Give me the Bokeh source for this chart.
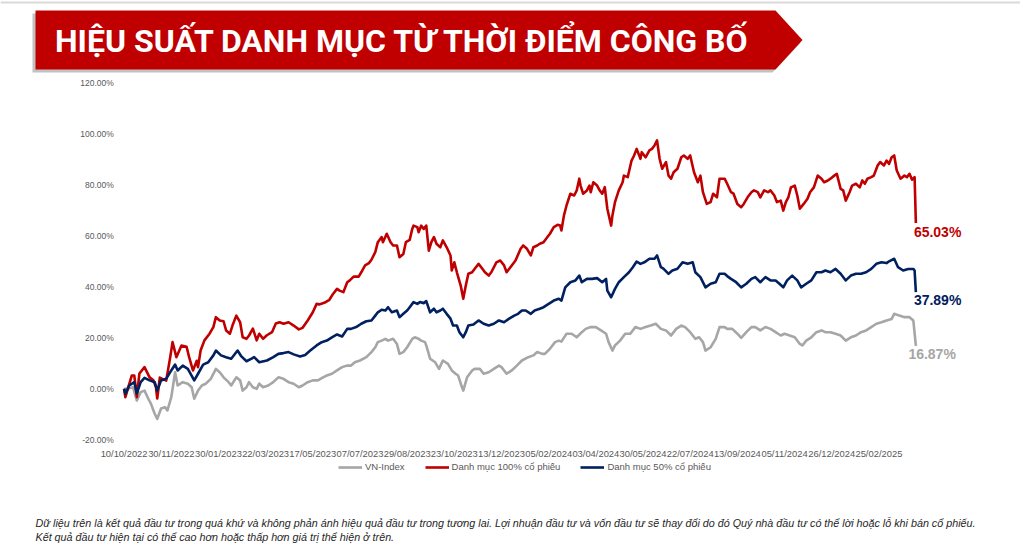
from bokeh.plotting import figure
from bokeh.models import FixedTicker, Legend, LegendItem, Range1d, PolyAnnotation, Label, BoxAnnotation
from bokeh.embed import file_html
from bokeh.resources import INLINE
from bokeh.core.properties import value

TITLE = "HIỆU SUẤT DANH MỤC TỪ THỜI ĐIỂM CÔNG BỐ"
NOTE_1 = ("Dữ liệu trên là kết quả đầu tư trong quá khứ và không phản ánh hiệu quả đầu tư trong tương lai. "
          "Lợi nhuận đầu tư và vốn đầu tư sẽ thay đổi do đó Quý nhà đầu tư có thể lời hoặc lỗ khi bán cổ phiếu.")
NOTE_2 = "Kết quả đầu tư hiện tại có thể cao hơn hoặc thấp hơn giá trị thể hiện ở trên."

SERIES_NAMES = ["VN-Index", "Danh mục 100% cổ phiếu", "Danh mục 50% cổ phiếu"]

# trading-day index of each date label on the category axis
TICK_DAYS = [0, 37, 74, 111, 148, 185, 222, 259, 296, 333, 370, 407, 444, 481, 518, 555, 592]
TICK_LABELS = ["10/10/2022", "30/11/2022", "30/01/2023", "22/03/2023", "17/05/2023", "07/07/2023",
               "29/08/2023", "23/10/2023", "13/12/2023", "05/02/2024", "03/04/2024", "30/05/2024",
               "22/07/2024", "13/09/2024", "05/11/2024", "26/12/2024", "25/02/2025"]
Y_TICKS = [-20, 0, 20, 40, 60, 80, 100, 120]

# VN-Index (% since publication)
VN_DAYS = [0, 3, 7, 10, 13, 16, 19, 21, 24, 26,
           29, 32, 34, 37, 40, 42, 46, 50, 53, 55,
           58, 61, 64, 68, 72, 75, 78, 82, 84, 88,
           91, 93, 96, 98, 101, 104, 106, 109, 113, 117,
           121, 125, 129, 133, 137, 140, 144, 148, 152, 156,
           159, 163, 167, 171, 175, 178, 181, 185, 190, 194,
           197, 199, 202, 205, 207, 211, 214, 216, 219, 222,
           226, 228, 231, 233, 236, 237, 240, 244, 247, 250,
           254, 257, 260, 262, 265, 266, 269, 273, 275, 279,
           282, 286, 290, 294, 296, 300, 304, 308, 312, 317,
           321, 324, 328, 330, 334, 338, 341, 343, 347, 351,
           355, 359, 362, 366, 370, 374, 378, 380, 383, 385,
           389, 393, 397, 401, 405, 409, 413, 417, 421, 425,
           429, 433, 437, 440, 444, 448, 451, 454, 456, 460,
           464, 467, 471, 473, 477, 481, 484, 488, 492, 495,
           499, 503, 507, 511, 515, 518, 522, 526, 530, 532,
           535, 539, 543, 547, 550, 554, 558, 562, 566, 570,
           574, 578, 582, 586, 590, 594, 598, 602, 604, 608,
           612, 616, 619, 621]
VN_VALUES = [0, 0, 0.6, -4.6, -1.3, -0.7, -3.9, -5.8, -9.8, -11.8,
             -7.7, -7.2, -8.5, -3.3, 6.5, 1.3, 2.6, 2.0, 0.6, -3.9,
             -0.7, 1.3, 2.0, 3.9, 7.8, 6.5, 4.5, 2.6, 1.3, 4.5,
             3.3, -0.7, 0.6, 2.6, 0.6, 0.0, 2.0, 0.6, 1.3, 2.6,
             4.5, 3.9, 2.6, 2.0, 0.6, 1.3, 2.6, 3.3, 3.3, 4.5,
             5.2, 5.9, 7.2, 8.5, 9.1, 9.1, 10.4, 11.1, 12.4, 14.4,
             16.3, 18.3, 18.9, 19.6, 18.9, 19.6, 17.6, 13.7, 14.4, 16.3,
             19.6, 20.2, 19.6, 18.9, 18.3, 17.0, 11.8, 10.4, 7.8, 11.1,
             9.8, 7.2, 5.9, 5.2, 0.6, -0.7, 4.5, 7.2, 7.8, 7.8,
             5.9, 6.5, 7.8, 9.1, 8.5, 5.9, 7.2, 9.1, 11.1, 12.4,
             13.1, 14.4, 13.7, 13.7, 15.7, 18.3, 18.9, 18.5, 21.6, 21.6,
             20.2, 22.2, 23.5, 24.2, 24.2, 22.9, 21.6, 18.3, 15.0, 17.0,
             18.9, 21.6, 21.6, 24.2, 23.5, 24.2, 24.8, 25.5, 23.5, 22.9,
             20.9, 23.5, 24.8, 24.2, 22.2, 19.6, 20.2, 18.3, 15.0, 16.3,
             19.6, 24.2, 24.2, 23.5, 23.5, 21.6, 20.0, 22.2, 24.2, 24.2,
             22.9, 24.2, 23.5, 22.2, 20.9, 21.6, 20.9, 20.2, 17.6, 17.0,
             18.9, 20.2, 22.2, 22.9, 22.2, 22.2, 21.6, 20.9, 18.9, 20.2,
             20.9, 22.2, 22.9, 24.2, 25.5, 26.1, 26.8, 27.4, 29.4, 28.7,
             28.1, 28.1, 26.8, 16.87]

# Danh mục 100% cổ phiếu
P100_DAYS = [0, 1, 6, 8, 10, 12, 16, 20, 23, 25,
             26, 28, 30, 33, 36, 38, 41, 45, 49, 51,
             54, 57, 58, 60, 63, 67, 70, 72, 75, 78,
             80, 83, 85, 88, 91, 93, 96, 98, 101, 104,
             106, 109, 112, 116, 119, 122, 125, 129, 133, 137,
             140, 144, 148, 151, 153, 157, 161, 164, 167, 169,
             172, 175, 177, 180, 184, 186, 189, 192, 194, 197,
             199, 202, 203, 206, 209, 211, 214, 216, 219, 221,
             224, 226, 227, 230, 231, 233, 235, 237, 239, 241,
             243, 245, 248, 250, 253, 256, 257, 259, 261, 264,
             266, 268, 270, 273, 275, 278, 281, 283, 286, 288,
             292, 295, 298, 300, 303, 307, 311, 313, 316, 319,
             321, 324, 326, 329, 332, 334, 337, 340, 342, 343,
             345, 347, 350, 353, 355, 357, 358, 360, 363, 365,
             366, 368, 371, 373, 375, 377, 379, 382, 383, 385,
             388, 391, 392, 395, 398, 400, 402, 405, 406, 409,
             412, 414, 416, 418, 420, 422, 425, 427, 429, 431,
             434, 437, 439, 442, 444, 447, 450, 452, 454, 457,
             460, 462, 465, 467, 471, 473, 476, 478, 481, 484,
             486, 489, 492, 494, 497, 499, 502, 505, 507, 510,
             512, 515, 517, 519, 521, 523, 526, 528, 530, 533,
             536, 538, 541, 544, 547, 549, 552, 554, 557, 559,
             562, 564, 566, 569, 571, 574, 577, 579, 581, 583,
             586, 588, 591, 593, 596, 598, 600, 602, 604, 606,
             609, 612, 614, 616, 618, 620, 621]
P100_VALUES = [0, -3.3, 5.2, 5.2, -3.3, 6.0, 8.5, 4.5, 3.3, 0.6,
               -3.8, 4.4, 3.9, 3.2, 11.9, 18.3, 12.4, 17.0, 16.5, 12.4,
               7.2, 11.0, 8.5, 15.0, 19.0, 21.6, 24.2, 28.1, 26.8, 26.5,
               22.9, 21.6, 24.8, 28.7, 26.1, 20.2, 19.6, 20.9, 23.6, 19.0,
               21.6, 19.6, 21.0, 22.2, 25.6, 26.1, 25.5, 26.1, 24.8, 23.3,
               23.9, 26.8, 30.0, 33.3, 33.1, 33.7, 34.9, 37.3, 39.2, 38.5,
               37.9, 41.8, 42.5, 44.0, 44.0, 45.7, 48.4, 49.3, 50.6, 53.6,
               57.5, 59.5, 57.5, 60.8, 57.5, 56.2, 56.2, 51.6, 52.9, 57.5,
               58.4, 62.7, 64.0, 63.4, 61.4, 64.0, 62.7, 64.0, 54.2, 57.5,
               59.5, 56.9, 55.5, 58.2, 55.5, 52.3, 46.4, 49.6, 45.7, 40.5,
               35.3, 40.5, 45.1, 45.7, 47.1, 49.0, 47.1, 45.7, 44.4, 45.7,
               49.6, 50.3, 48.4, 45.7, 47.7, 50.3, 54.9, 56.2, 54.9, 52.3,
               55.5, 56.2, 56.9, 57.5, 59.5, 60.8, 63.4, 64.3, 64.0, 62.1,
               68.0, 71.9, 76.5, 75.8, 77.8, 82.4, 79.7, 76.5, 77.8, 79.7,
               77.1, 81.0, 79.7, 77.8, 76.5, 79.1, 70.6, 64.0, 68.0, 73.2,
               77.8, 81.0, 83.6, 83.0, 89.5, 91.5, 94.1, 90.2, 92.8, 90.8,
               93.5, 94.1, 95.4, 97.4, 90.2, 86.3, 88.9, 83.6, 82.4, 84.9,
               86.3, 90.8, 91.5, 90.2, 91.5, 84.9, 81.0, 83.6, 77.1, 72.5,
               73.2, 76.5, 75.1, 82.4, 82.4, 80.4, 77.1, 76.5, 72.5, 71.2,
               72.5, 75.1, 77.1, 77.8, 77.1, 75.1, 77.8, 77.1, 77.8, 75.8,
               73.2, 73.8, 69.9, 73.2, 75.1, 79.0, 79.7, 75.8, 70.6, 72.5,
               74.5, 77.1, 79.0, 83.6, 82.4, 81.0, 81.7, 82.4, 83.6, 84.3,
               78.4, 77.8, 73.8, 77.1, 79.7, 80.4, 79.0, 81.7, 80.4, 82.4,
               83.0, 83.6, 87.6, 88.9, 87.6, 89.5, 88.2, 90.8, 91.5, 85.6,
               82.4, 83.6, 83.0, 84.3, 82.0, 83.0, 65.03]

# Danh mục 50% cổ phiếu
P50_DAYS = [0, 1, 4, 8, 10, 13, 16, 20, 24, 26,
            29, 33, 37, 40, 42, 46, 50, 55, 58, 62,
            66, 70, 72, 76, 80, 84, 89, 92, 96, 100,
            102, 106, 112, 117, 121, 125, 129, 133, 138, 142,
            146, 151, 155, 159, 163, 167, 171, 175, 178, 182,
            186, 190, 194, 197, 199, 202, 205, 207, 210, 214,
            216, 219, 222, 224, 227, 230, 232, 235, 237, 240,
            243, 245, 248, 250, 253, 256, 258, 261, 263, 266,
            268, 270, 274, 278, 282, 286, 290, 294, 298, 302,
            306, 309, 312, 315, 319, 322, 326, 329, 333, 337,
            341, 343, 346, 350, 354, 357, 359, 363, 367, 371,
            375, 378, 379, 382, 385, 388, 392, 396, 399, 402,
            405, 408, 412, 416, 418, 421, 423, 427, 430, 434,
            438, 442, 446, 448, 452, 456, 460, 464, 467, 471,
            473, 476, 480, 484, 488, 492, 495, 499, 503, 507,
            511, 514, 517, 520, 524, 528, 531, 535, 539, 543,
            547, 550, 554, 558, 562, 566, 570, 574, 578, 582,
            586, 590, 594, 598, 600, 604, 607, 611, 615, 619,
            620, 621]
P50_VALUES = [0, -2.0, 1.3, 2.6, -1.8, 2.6, 4.3, 3.3, 2.6, -0.7,
              3.3, 3.9, 7.2, 9.5, 7.2, 9.1, 7.8, 3.3, 5.9, 9.5,
              10.4, 13.1, 15.0, 13.1, 12.4, 11.8, 15.0, 12.7, 10.8, 11.8,
              12.4, 10.4, 11.1, 12.4, 13.7, 14.0, 14.4, 13.5, 12.7, 13.3,
              15.0, 17.0, 18.3, 18.9, 20.2, 21.3, 20.5, 23.5, 23.5, 24.2,
              25.5, 26.5, 26.8, 28.7, 30.0, 31.0, 30.7, 32.0, 30.0, 30.7,
              28.1, 29.4, 30.7, 32.0, 34.0, 33.3, 34.0, 33.6, 34.4, 30.0,
              31.4, 30.0, 30.7, 31.4, 29.4, 27.5, 24.8, 24.8, 22.2, 20.2,
              22.2, 24.8, 25.2, 26.8, 25.5, 24.8, 25.5, 26.8, 26.1, 27.5,
              28.7, 29.4, 30.7, 30.7, 29.4, 30.7, 31.4, 32.0, 33.3, 34.6,
              35.3, 34.6, 39.8, 41.8, 42.5, 44.4, 41.8, 43.1, 43.1, 43.4,
              41.8, 43.1, 38.5, 35.9, 39.2, 41.8, 43.8, 45.7, 47.7, 49.9,
              49.0, 49.6, 51.0, 51.0, 52.3, 47.7, 47.1, 45.1, 46.4, 47.1,
              49.6, 49.0, 49.6, 45.7, 43.8, 39.8, 41.2, 41.8, 45.1, 45.1,
              44.2, 43.1, 41.8, 39.8, 41.2, 43.1, 43.8, 41.8, 43.8, 42.5,
              42.5, 41.2, 39.8, 42.5, 44.4, 42.5, 39.8, 41.2, 42.5, 45.7,
              45.7, 46.4, 45.7, 47.0, 45.1, 42.5, 44.4, 45.1, 45.1, 45.7,
              47.0, 49.0, 49.6, 49.3, 50.0, 51.0, 47.7, 46.4, 47.0, 47.0,
              46.4, 37.89]

GREY = "#A6A6A6"
RED = "#C00000"
NAVY = "#002060"
AXIS_TEXT = "#595959"
W, H = 1020, 545

# ---- layout geometry (canvas pixels) ----
X0_PX, PX_PER_DAY = 123.6, 1.275          # position of day 0, width of one trading day
Y_TOP_PX, Y_BOT_PX = 82.3, 439.3           # positions of 120% and -20%
PX_PER_PCT = (Y_BOT_PX - Y_TOP_PX) / 140.0

x_range = Range1d(-X0_PX / PX_PER_DAY, (W - X0_PX) / PX_PER_DAY)
y_range = Range1d(-20 - (H - Y_BOT_PX) / PX_PER_PCT, 120 + Y_TOP_PX / PX_PER_PCT)

p = figure(width=W, height=H, x_range=x_range, y_range=y_range,
           toolbar_location=None, output_backend="svg", title=None, min_border=0)
p.grid.visible = False
p.outline_line_color = None

# ---------- top rule and banner ----------
p.add_layout(BoxAnnotation(left=0, right=W, top=1, bottom=3, left_units="canvas", right_units="canvas",
                           top_units="canvas", bottom_units="canvas", fill_color="#d9d9d9",
                           fill_alpha=1.0, line_color=None))
p.add_layout(PolyAnnotation(xs=[32, 772, 800, 772, 32], ys=[13, 13, 42.5, 72, 72],
                            xs_units="canvas", ys_units="canvas",
                            fill_color="#8f8f8f", fill_alpha=0.55, line_color=None))
p.add_layout(PolyAnnotation(xs=[35, 775, 802, 775, 35], ys=[10, 10, 39.5, 69, 69],
                            xs_units="canvas", ys_units="canvas",
                            fill_color=RED, fill_alpha=1.0, line_color=None))
p.add_layout(Label(x=402, y=40, x_units="canvas", y_units="canvas", text=TITLE,
                   text_color="white", text_font="Roboto", text_font_style="bold",
                   text_font_size="32px", text_align="center", text_baseline="middle"))

# ---------- series ----------
r_vn = p.line(VN_DAYS, VN_VALUES, line_color=GREY, line_width=2.6, line_join="round")
r_100 = p.line(P100_DAYS, P100_VALUES, line_color=RED, line_width=2.6, line_join="round")
r_50 = p.line(P50_DAYS, P50_VALUES, line_color=NAVY, line_width=2.6, line_join="round")

for days, vals, col, dx, dy in [(P100_DAYS, P100_VALUES, RED, -2, 9),
                                (P50_DAYS, P50_VALUES, NAVY, -2, 7.5),
                                (VN_DAYS, VN_VALUES, GREY, -7.5, 8)]:
    p.text(x=[days[-1]], y=[vals[-1]], text=[f"{vals[-1]:.2f}%"], text_color=col,
           text_font=value("Liberation Sans"), text_font_style="bold", text_font_size="14px",
           text_align="left", text_baseline="middle", x_offset=dx, y_offset=dy)

# ---------- axes (drawn at fixed data positions inside the canvas) ----------
p.xaxis.ticker = FixedTicker(ticks=TICK_DAYS, minor_ticks=[])
p.xaxis.major_label_overrides = {d: lab for d, lab in zip(TICK_DAYS, TICK_LABELS)}
p.yaxis.ticker = FixedTicker(ticks=Y_TICKS, minor_ticks=[])
p.yaxis.major_label_overrides = {t: f"{t:.2f}%" for t in Y_TICKS}
p.xaxis.fixed_location = -20
p.yaxis.fixed_location = -1.0
for ax in (p.xaxis, p.yaxis):
    ax.axis_line_color = None
    ax.major_tick_line_color = None
    ax.minor_tick_line_color = None
    ax.major_tick_out = 0
    ax.major_tick_in = 0
    ax.minor_tick_out = 0
    ax.major_label_text_color = AXIS_TEXT
    ax.major_label_text_font = "Liberation Sans"
p.xaxis.major_label_text_font_size = "9.4px"
p.yaxis.major_label_text_font_size = "8.5px"
p.xaxis.major_label_standoff = 8
p.yaxis.major_label_standoff = 9

# ---------- legend (below the date labels) ----------
legend = Legend(items=[LegendItem(label=SERIES_NAMES[0], renderers=[r_vn]),
                       LegendItem(label=SERIES_NAMES[1], renderers=[r_100]),
                       LegendItem(label=SERIES_NAMES[2], renderers=[r_50])],
                orientation="horizontal", location=(338, H - 472), margin=0, padding=0, spacing=20,
                glyph_width=24, glyph_height=10, label_standoff=3, label_height=10,
                label_text_font="Liberation Sans", label_text_font_size="9.5px",
                label_text_color=AXIS_TEXT, border_line_color=None, background_fill_alpha=0)
p.add_layout(legend, "center")

# ---------- footnote ----------
for txt, yy in [(NOTE_1, 522), (NOTE_2, 536)]:
    p.add_layout(Label(x=35, y=yy, x_units="canvas", y_units="canvas", text=txt,
                       text_color="#262626", text_font="Liberation Sans", text_font_style="italic",
                       text_font_size="10.75px", text_align="left", text_baseline="middle"))

open("out.html", "w").write(file_html(p, INLINE))
